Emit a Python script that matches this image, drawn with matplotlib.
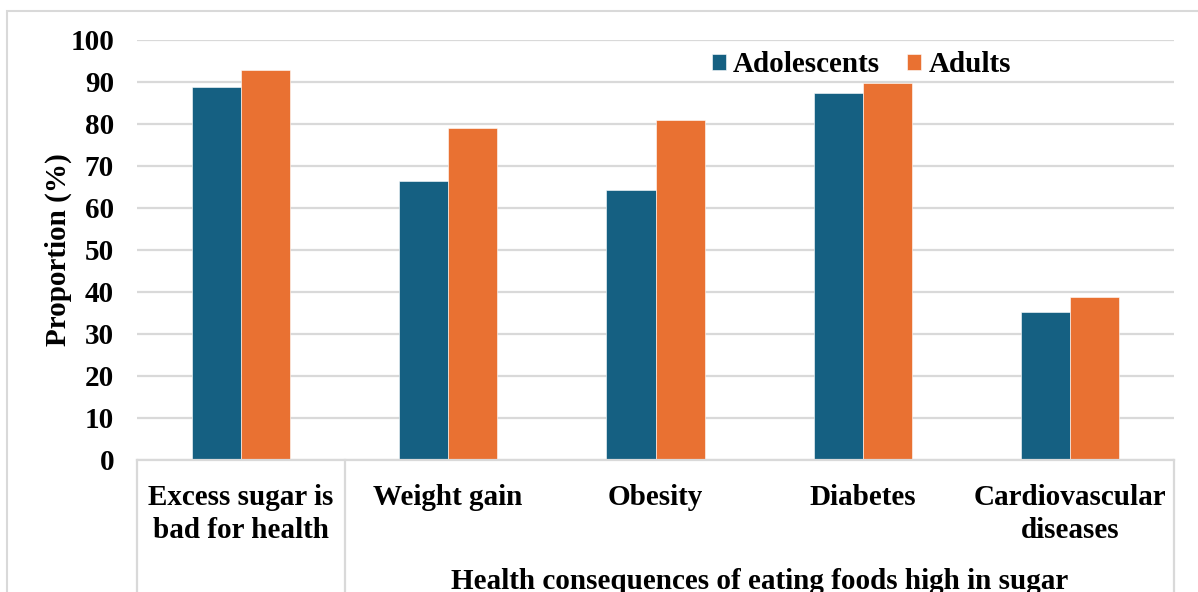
import matplotlib.pyplot as plt
from matplotlib.lines import Line2D
from matplotlib.patches import Rectangle
import numpy as np

# data
categories = ['Excess sugar is\nbad for health', 'Weight gain', 'Obesity',
              'Diabetes', 'Cardiovascular\ndiseases']
adolescents = [88.8, 66.4, 64.3, 87.4, 35.2]
adults = [92.9, 79.0, 81.0, 89.8, 38.8]
series_names = ['Adolescents', 'Adults']
group_label = 'Health consequences of eating foods high in sugar'
y_ticks = list(range(0, 101, 10))

W, H = 1198, 592
BLUE = '#156082'
ORANGE = '#E97132'
GRID = '#d9d9d9'
FONT = 'Liberation Serif'
FS = 21

plt.rcParams['font.family'] = FONT
plt.rcParams['font.weight'] = 'bold'

fig = plt.figure(figsize=(W / 100, H / 100), dpi=100)


def fx(px):
    return px / W


def fy(py):
    return 1 - py / H


# axes placed by pixel: left 137, right 1174, top 40, bottom 460
ax = fig.add_axes([fx(137), fy(460), fx(1174 - 137), (460 - 40) / H])

x = np.arange(len(categories))
bw = 0.237
ax.bar(x - bw / 2, adolescents, bw, color=BLUE, label=series_names[0],
       edgecolor='white', linewidth=0.4, zorder=3)
ax.bar(x + bw / 2, adults, bw, color=ORANGE, label=series_names[1],
       edgecolor='white', linewidth=0.4, zorder=3)

ax.set_xlim(-0.5, len(categories) - 0.5)
ax.set_ylim(0, 100)
ax.set_yticks(y_ticks)
ax.set_xticks([])
ax.grid(axis='y', color=GRID, linewidth=1.6, zorder=0)
for s in ax.spines.values():
    s.set_visible(False)
ax.tick_params(axis='y', length=0, pad=16.5, labelsize=FS)
for t in ax.get_yticklabels():
    t.set_fontweight('bold')

# y label
fig.text(fx(58), fy(250), 'Proportion (%)', rotation=90, ha='center',
         va='center', fontsize=FS, fontweight='bold')

# category "table" lines below the axis
lc = dict(color=GRID, linewidth=1.6, transform=fig.transFigure)
fig.add_artist(Line2D([fx(137), fx(1174)], [fy(460), fy(460)], **lc))
for px in (137, 345, 1174):
    fig.add_artist(Line2D([fx(px), fx(px)], [fy(460), fy(600)], **lc))

# category labels, line by line
for i, lab in enumerate(categories):
    cx = ax.transData.transform((i, 0))[0] / W
    for j, line in enumerate(lab.split('\n')):
        fig.text(cx, fy(505 + j * 33), line, ha='center', va='baseline',
                 fontsize=FS, fontweight='bold')

# group label under categories 2-5 (cut by the lower edge, as in the source)
fig.text(fx(760), fy(589), group_label, ha='center', va='baseline',
         fontsize=FS, fontweight='bold')

# legend
fig.legend(loc='center left', bbox_to_anchor=(fx(697), fy(65)),
           frameon=False, ncol=2, borderpad=0,
           handlelength=0.48, handleheight=0.48, handletextpad=0.24,
           columnspacing=0.95, prop={'family': FONT, 'weight': 'bold', 'size': FS})

# light frame round the chart
fig.add_artist(Rectangle((fx(7), fy(700)), 2, fy(11) - fy(700),
                         transform=fig.transFigure, fill=False,
                         edgecolor=GRID, linewidth=1.5))

fig.savefig('out.png', dpi=100, facecolor='white')
